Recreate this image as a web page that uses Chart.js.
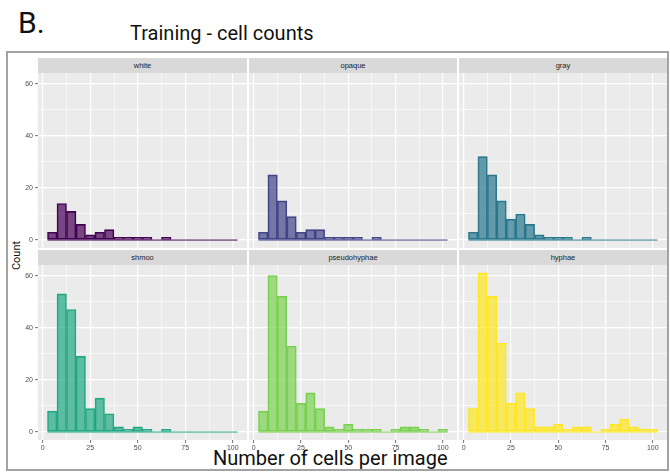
<!DOCTYPE html>
<html>
<head>
<meta charset="utf-8">
<script src="https://cdn.jsdelivr.net/npm/chart.js@4/dist/chart.umd.min.js"></script>
<style>
  html, body { margin: 0; padding: 0; background: #ffffff; }
  body { width: 670px; height: 472px; position: relative; overflow: hidden; font-family: Roboto, "Liberation Sans", sans-serif; }
  .abs { position: absolute; }
  .tag { left: 18px; top: 8px; font-size: 30px; line-height: 30px; color: #111; }
  .title { left: 130px; top: 22.5px; font-size: 20px; line-height: 20px; color: #111; white-space: nowrap; }
  .frame { left: 6px; top: 51px; width: 663px; height: 420px; box-sizing: border-box; border: 2px solid #a3a3a3; }
  .strip { background: #d9d9d9; color: #1a1a1a; font-family: "Liberation Sans", Arial, sans-serif; font-size: 7.5px; text-align: center; line-height: 15px; height: 15px; }
  .ytitle { left: -14px; top: 250px; width: 60px; text-align: center; font-size: 11px; line-height: 11px; color: #111; transform: rotate(-90deg); }
  .xtitle { left: 213px; top: 448px; font-size: 20px; line-height: 20px; color: #111; white-space: nowrap; }
</style>
</head>
<body>
<div class="abs frame"></div>
<div class="abs tag">B.</div>
<div class="abs title">Training - cell counts</div>
<div class="abs ytitle">Count</div>
<div class="abs xtitle">Number of cells per image</div>
<div id="panels"></div>
<script>
// Histogram bins (width 5), centred on these values
const binCenters = [5, 10, 15, 20, 25, 30, 35, 40, 45, 50, 55, 60, 65, 70, 75, 80, 85, 90, 95, 100];
const binWidth = 5;

// Facet names and their viridis colours
const groups = ['white', 'opaque', 'gray', 'shmoo', 'pseudohyphae', 'hyphae'];
const colours = ['#440154', '#414487', '#2A788E', '#22A884', '#7AD151', '#FDE725'];

// Number of images per bin, one array per facet
const whiteCounts        = [3, 14, 11, 6, 2, 3, 4, 1, 1, 1, 1, 0, 1, 0, 0, 0, 0, 0, 0, 0];
const opaqueCounts       = [3, 25, 15, 9, 3, 4, 4, 1, 1, 1, 1, 0, 1, 0, 0, 0, 0, 0, 0, 0];
const grayCounts         = [3, 32, 25, 15, 8, 10, 6, 2, 1, 1, 1, 0, 1, 0, 0, 0, 0, 0, 0, 0];
const shmooCounts        = [8, 53, 47, 29, 9, 13, 7, 2, 1, 2, 1, 0, 1, 0, 0, 0, 0, 0, 0, 0];
const pseudohyphaeCounts = [8, 60, 52, 33, 11, 15, 9, 2, 1, 3, 1, 1, 1, 0, 1, 2, 2, 1, 0, 1];
const hyphaeCounts       = [9, 61, 52, 34, 11, 15, 9, 2, 2, 3, 1, 2, 2, 0, 1, 3, 5, 2, 1, 1];
const countsByGroup = [whiteCounts, opaqueCounts, grayCounts, shmooCounts, pseudohyphaeCounts, hyphaeCounts];

// Axis ticks: majors are labelled, minors only get a grid line
const xTicks = [0, 12.5, 25, 37.5, 50, 62.5, 75, 87.5, 100];
const xMajor = [0, 25, 50, 75, 100];
const yTicks = [0, 10, 20, 30, 40, 50, 60];
const yMajor = [0, 20, 40, 60];
const xLimits = [-2.5, 107.5];
const yLimits = [-3.05, 64.05];

// Facet grid geometry
const colLeft = [38, 249, 459];
const colWidth = [209, 208, 208];
const rowStripTop = [58, 250];
const rowPanelTop = [73, 265];
const panelHeight = 175;
const yAxisWidth = 38;
const xAxisHeight = 14;

function withAlpha(hex, a) {
  const n = parseInt(hex.slice(1), 16);
  return `rgba(${(n >> 16) & 255}, ${(n >> 8) & 255}, ${n & 255}, ${a})`;
}

function isMajor(c, majors) {
  return !!(c && c.tick && majors.includes(c.tick.value));
}

const panelBackground = {
  id: 'panelBackground',
  beforeDraw(chart) {
    const { ctx, chartArea: a } = chart;
    ctx.save();
    ctx.fillStyle = '#ebebeb';
    ctx.fillRect(a.left, a.top, a.right - a.left, a.bottom - a.top);
    ctx.restore();
  }
};

const tickFont = { family: '"Liberation Sans", Arial, sans-serif', size: 7 };
const host = document.getElementById('panels');

groups.forEach((name, i) => {
  const row = Math.floor(i / 3);
  const col = i % 3;
  const colour = colours[i];
  const counts = countsByGroup[i];
  const showY = col === 0;
  const showX = row === 1;

  const strip = document.createElement('div');
  strip.className = 'abs strip';
  strip.style.left = colLeft[col] + 'px';
  strip.style.top = rowStripTop[row] + 'px';
  strip.style.width = colWidth[col] + 'px';
  strip.textContent = name;
  host.appendChild(strip);

  const canvas = document.createElement('canvas');
  canvas.className = 'abs';
  canvas.width = colWidth[col] + yAxisWidth;
  canvas.height = panelHeight + xAxisHeight;
  canvas.style.left = (colLeft[col] - yAxisWidth) + 'px';
  canvas.style.top = rowPanelTop[row] + 'px';
  host.appendChild(canvas);

  const first = binCenters[0] - binWidth / 2;
  const last = binCenters[binCenters.length - 1] + binWidth / 2;

  new Chart(canvas, {
    type: 'bar',
    data: {
      datasets: [
        {
          type: 'bar',
          data: binCenters.map((x, k) => ({ x, y: counts[k] })),
          backgroundColor: withAlpha(colour, 0.7),
          borderColor: colour,
          borderWidth: 1,
          borderSkipped: false,
          barPercentage: 1,
          categoryPercentage: 1,
          order: 2
        },
        {
          // bottom edges of the histogram bars (also visible where a bin is empty)
          type: 'line',
          data: [{ x: first, y: 0 }, { x: last, y: 0 }],
          borderColor: colour,
          borderWidth: 1,
          pointRadius: 0,
          order: 1
        }
      ]
    },
    options: {
      responsive: false,
      animation: false,
      devicePixelRatio: 1,
      layout: { padding: 0 },
      plugins: { legend: { display: false }, tooltip: { enabled: false } },
      scales: {
        x: {
          type: 'linear',
          offset: false,
          min: xLimits[0],
          max: xLimits[1],
          afterBuildTicks: s => { s.ticks = xTicks.map(v => ({ value: v })); },
          afterFit: s => { s.height = xAxisHeight; s.paddingLeft = 0; s.paddingRight = 0; s.paddingTop = 0; s.paddingBottom = 0; },
          border: { display: false },
          grid: {
            offset: false,
            color: '#ffffff',
            lineWidth: c => isMajor(c, xMajor) ? 1.2 : 0.6,
            tickColor: c => (showX && isMajor(c, xMajor)) ? '#4d4d4d' : 'rgba(0,0,0,0)',
            tickLength: 3,
            tickWidth: 0.8
          },
          ticks: {
            display: showX,
            autoSkip: false,
            maxRotation: 0,
            padding: 1,
            color: '#4d4d4d',
            font: tickFont,
            callback: v => xMajor.includes(v) ? String(v) : ''
          }
        },
        y: {
          type: 'linear',
          min: yLimits[0],
          max: yLimits[1],
          afterBuildTicks: s => { s.ticks = yTicks.map(v => ({ value: v })); },
          afterFit: s => { s.width = yAxisWidth; s.paddingLeft = 0; s.paddingRight = 0; s.paddingTop = 0; s.paddingBottom = 0; },
          border: { display: false },
          grid: {
            color: '#ffffff',
            lineWidth: c => isMajor(c, yMajor) ? 1.2 : 0.6,
            tickColor: c => (showY && isMajor(c, yMajor)) ? '#4d4d4d' : 'rgba(0,0,0,0)',
            tickLength: 3,
            tickWidth: 0.8
          },
          ticks: {
            display: showY,
            autoSkip: false,
            padding: 2,
            color: '#4d4d4d',
            font: tickFont,
            callback: v => yMajor.includes(v) ? String(v) : ''
          }
        }
      }
    },
    plugins: [panelBackground]
  });
});
</script>
</body>
</html>
